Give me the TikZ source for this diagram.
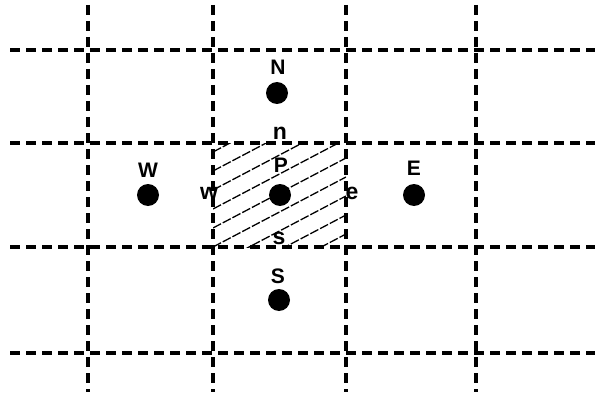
\documentclass[tikz,border=0pt]{standalone}
\usepackage{fontspec}
\setmainfont{Liberation Sans}
\begin{document}
\begin{tikzpicture}[x=1pt,y=-1pt,
  gridline/.style={line width=3.2pt, dash pattern=on 10pt off 6pt, black},
  hatchline/.style={line width=1.3pt, dash pattern=on 9pt off 2pt, black},
  dot/.style={circle, fill=black, inner sep=0pt, minimum size=22pt},
  caplbl/.style={font=\bfseries\fontsize{21}{21}\selectfont, inner sep=0pt},
  lowlbl/.style={font=\bfseries\fontsize{23}{23}\selectfont, inner sep=0pt}]
\useasboundingbox (0,0) rectangle (595,396);
% hatched control volume
\begin{scope}
  \clip (213,143) rectangle (346,247);
  \foreach \c in {152,171,...,323} \draw[hatchline] (213,\c) -- (346,\c-70);
\end{scope}
% grid
\foreach \x in {88,213,346,476} \draw[gridline] (\x,5) -- (\x,392);
\foreach \y in {50,143,247,353} \draw[gridline] (10,\y) -- (595,\y);
% nodes
\node[dot] (N) at (277,93) {};
\node[dot] (W) at (148,195) {};
\node[dot] (P) at (280,195) {};
\node[dot] (E) at (414,195) {};
\node[dot] (S) at (279,300) {};
% labels
\node[caplbl] (lN) at (278,67) {N};
\node[caplbl] (lW) at (148,170) {W};
\node[caplbl] (lE) at (414,168) {E};
\node[caplbl] (lS) at (278,276) {S};
\node[caplbl] (lP) at (281,165) {P};
\node[lowlbl] (ln) at (280,133) {n};
\node[lowlbl] (lw) at (209,193) {w};
\node[lowlbl] (le) at (352,193) {e};
\node[lowlbl] (ls) at (279,238) {s};
\end{tikzpicture}
\end{document}
